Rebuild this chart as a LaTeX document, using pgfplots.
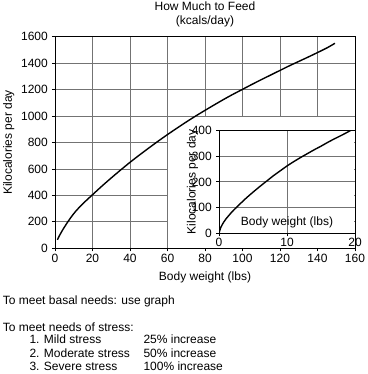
\documentclass[border=0pt,12pt]{standalone}
\usepackage{fontspec}
\setmainfont{Liberation Sans}
\usepackage{pgfplots}
\pgfplotsset{compat=1.18}
\pgfplotsset{
  myaxis/.style={
    scale only axis,
    tick align=outside, major tick length=3pt,
    grid=major, major grid style={black!55, line width=0.8pt},
    axis line style={line width=0.8pt},
    every tick/.style={black, line width=0.8pt},
    /pgf/number format/assume math mode=true,
    /pgf/number format/1000 sep={},
  }
}
\begin{document}
\begin{tikzpicture}
\useasboundingbox (-55pt,-125.7pt) rectangle (312pt,248.3pt);
\begin{axis}[myaxis,
  at={(0pt,0pt)}, anchor=south west,
  width=300pt, height=211.6pt,
  xmin=0, xmax=160, ymin=0, ymax=1600,
  xtick={0,20,...,160}, ytick={0,200,...,1600},
  tick pos=left,
  xticklabel style={yshift=1.5pt},
  title={How Much to Feed\\(kcals/day)},
  every axis title/.style={at={(axis description cs:0.5,1)}, anchor=south, yshift=10pt, inner sep=0pt, align=center, font=\fontsize{12}{13.3}\selectfont},
  xlabel={Body weight (lbs)},
  xlabel style={at={(axis description cs:0.5,0)}, anchor=base, yshift=-31.7pt, inner sep=0pt},
  ylabel={Kilocalories per day},
  ylabel style={at={(axis description cs:-0.154,0.5)}, anchor=center, inner sep=0pt},
]
\fill[white] (axis cs:60.3,4) rectangle (axis cs:159.7,996.5);
\addplot[black, line width=1.4pt, smooth] coordinates {
(1.3,64) (2,86) (3,112) (4,137) (6,182) (8,224) (10,262) (12,295) (15,339)
(20,405) (25,470) (30,532) (35,592) (40,650) (45,705) (50,758) (55,810)
(60,860) (65,908) (70,955) (75,1000) (80,1043) (85,1085) (90,1126)
(95,1165) (100,1202) (105,1239) (110,1275) (115,1310) (120,1345)
(125,1380) (130,1413) (135,1446) (140,1480) (145,1515) (149.3,1550)};
\end{axis}
\begin{axis}[myaxis,
  at={(164pt,15pt)}, anchor=south west,
  width=136pt, height=102.8pt,
  xmin=0, xmax=20, ymin=0, ymax=400,
  xtick={0,10,20}, ytick={0,100,...,400},
  tick pos=left,
  xticklabel style={yshift=2pt},
  xlabel={Body weight (lbs)},
  xlabel style={at={(axis description cs:0.5,0.073)}, anchor=base, inner sep=0pt},
  ylabel={Kilocalories per day},
  ylabel style={at={(axis description cs:-0.195,0.5)}, anchor=center, inner sep=0pt},
]
\addplot[black, line width=1.4pt, smooth] coordinates {
(0,0) (0.25,22) (0.5,35) (1,55) (2,86) (3,112) (4,137) (5,160) (6,182)
(7,203) (8,224) (9,243) (10,262) (11,279) (12,295) (13,310) (14,325)
(15,339) (16,354) (17,368) (18,381) (19,395) (19.4,401)};
\end{axis}
\node[anchor=base west, inner sep=0pt] at (-52.3pt,-56pt) {To meet basal needs: use graph};
\node[anchor=base west, inner sep=0pt] at (-52.3pt,-83.7pt) {To meet needs of stress:};
\node[anchor=base west, inner sep=0pt] at (-25.7pt,-95.4pt) {1. Mild stress};
\node[anchor=base west, inner sep=0pt] at (-25.7pt,-108.7pt) {2. Moderate stress};
\node[anchor=base west, inner sep=0pt] at (-25.7pt,-122pt) {3. Severe stress};
\node[anchor=base west, inner sep=0pt] at (88.3pt,-95.4pt) {25\% increase};
\node[anchor=base west, inner sep=0pt] at (88.3pt,-108.7pt) {50\% increase};
\node[anchor=base west, inner sep=0pt] at (88.3pt,-122pt) {100\% increase};
\end{tikzpicture}
\end{document}
